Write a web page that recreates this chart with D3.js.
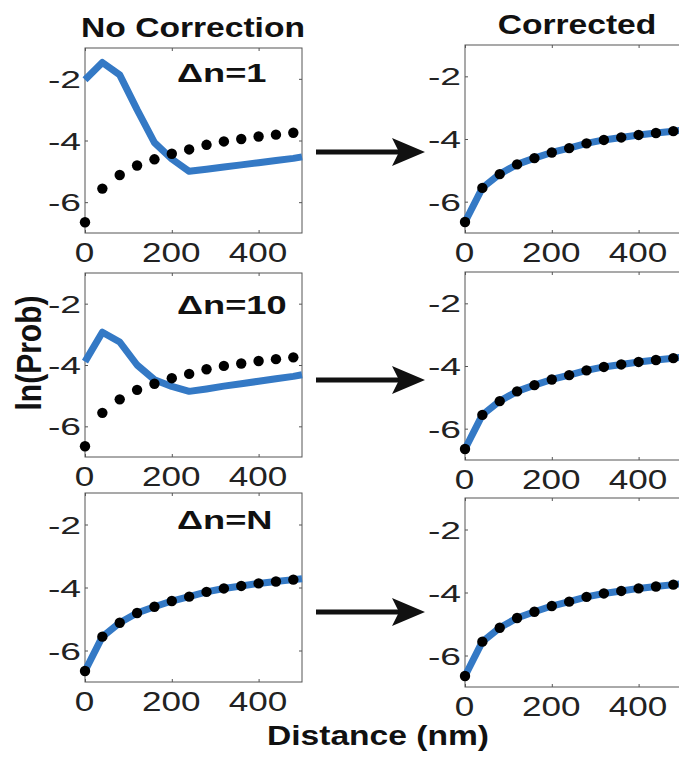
<!DOCTYPE html>
<html>
<head>
<meta charset="utf-8">
<script src="https://cdn.jsdelivr.net/npm/d3@7"></script>
<style>
body { margin: 0; background: #fff; }
svg { display: block; font-family: "Liberation Sans", Arial, Helvetica, sans-serif; }
</style>
</head>
<body>
<svg id="fig" width="679" height="762"></svg>
<script>
// measured points (black dots), same in every panel
var distance = [0, 40, 80, 120, 160, 200, 240, 280, 320, 360, 400, 440, 480];
var lnProb = [-6.65, -5.56, -5.12, -4.81, -4.61, -4.43, -4.29, -4.14, -4.03, -3.95, -3.87, -3.81, -3.75];

// fitted curves (blue)
var lineDistance = [0, 40, 80, 120, 160, 200, 240, 280, 320, 360, 400, 440, 480, 500];
var fitDn1 = [-2.03, -1.47, -1.87, -3.0, -4.07, -4.6, -5.0, -4.93, -4.86, -4.79, -4.72, -4.65, -4.58, -4.53];
var fitDn10 = [-3.89, -2.93, -3.25, -4.0, -4.48, -4.7, -4.86, -4.78, -4.69, -4.61, -4.53, -4.45, -4.37, -4.32];
var fitDnN = [-6.65, -5.56, -5.12, -4.81, -4.61, -4.43, -4.29, -4.14, -4.03, -3.95, -3.87, -3.81, -3.75, -3.72];
var fitCorrected = [-6.65, -5.56, -5.12, -4.81, -4.61, -4.43, -4.29, -4.14, -4.03, -3.95, -3.87, -3.81, -3.75, -3.72];

var xTicks = [0, 200, 400];
var yTicks = [-2, -4, -6];
var colTitles = ["No Correction", "Corrected"];
var rowLabels = ["\u0394n=1", "\u0394n=10", "\u0394n=N"];

var blue = "#3479c5";
var svg = d3.select("#fig");

// helper: text stretched wider like the original scan
function label(x, y, str, size, weight, anchor, sx) {
    return svg.append("text")
        .attr("transform", "translate(" + x + "," + y + ") scale(" + sx + ",1)")
        .attr("text-anchor", anchor)
        .style("font-size", size + "px")
        .style("font-weight", weight)
        .style("fill", "#111")
        .text(str);
}

// plain hyphen, no decimals
var fmt = function(d) { return String(d); };

var panels = [
    {fit: fitDn1,       left: 85,  top: 48,  bottom: 233, tag: rowLabels[0], tagY: 82},
    {fit: fitDn10,      left: 85,  top: 273, bottom: 457, tag: rowLabels[1], tagY: 314},
    {fit: fitDnN,       left: 85,  top: 493, bottom: 682, tag: rowLabels[2], tagY: 529},
    {fit: fitCorrected, left: 465, top: 45,  bottom: 233},
    {fit: fitCorrected, left: 465, top: 272, bottom: 460},
    {fit: fitCorrected, left: 465, top: 498, bottom: 687}
];

panels.forEach(function(p) {
    var x = d3.scaleLinear().domain([0, 500]).range([p.left, p.left + 217]);
    var y = d3.scaleLinear().domain([-7, -1]).range([p.bottom, p.top]);
    var g = svg.append("g");

    g.append("rect")
        .attr("x", x(0)).attr("y", y(-1))
        .attr("width", x(500) - x(0)).attr("height", y(-7) - y(-1))
        .style("fill", "none").style("stroke", "#555").style("stroke-width", 1);

    var bottomAxis = g.append("g")
        .attr("transform", "translate(0," + y(-7) + ")")
        .call(d3.axisBottom(x).tickValues(xTicks).tickSize(-3).tickSizeOuter(0).tickFormat(fmt));
    bottomAxis.selectAll("text")
        .attr("y", 0).attr("dy", 0)
        .attr("transform", "translate(-1,29) scale(1.3,1)")
        .style("font-size", "27px").style("fill", "#222");

    var leftAxis = g.append("g")
        .attr("transform", "translate(" + x(0) + ",0)")
        .call(d3.axisLeft(y).tickValues(yTicks).tickSize(-3).tickSizeOuter(0).tickFormat(fmt));
    leftAxis.selectAll("text")
        .attr("x", 0).attr("dy", "0.36em")
        .attr("transform", "translate(-4,0) scale(1.55,1)")
        .style("font-size", "24px").style("fill", "#222");

    g.append("g")
        .attr("transform", "translate(0," + y(-1) + ")")
        .call(d3.axisTop(x).tickValues(xTicks).tickSize(-3).tickSizeOuter(0).tickFormat(""));
    g.append("g")
        .attr("transform", "translate(" + x(500) + ",0)")
        .call(d3.axisRight(y).tickValues(yTicks).tickSize(-3).tickSizeOuter(0).tickFormat(""));

    g.selectAll(".domain").remove();
    g.selectAll(".tick line").style("stroke", "#555");

    var line = d3.line()
        .x(function(d, i) { return x(lineDistance[i]); })
        .y(function(d) { return y(d); });

    g.append("path")
        .datum(p.fit)
        .attr("d", line)
        .style("fill", "none")
        .style("stroke", blue)
        .style("stroke-width", 7)
        .style("stroke-linejoin", "round");

    g.selectAll("circle")
        .data(lnProb)
        .enter().append("circle")
        .attr("cx", function(d, i) { return x(distance[i]); })
        .attr("cy", function(d) { return y(d); })
        .attr("r", 5.2)
        .style("fill", "#000");

    if (p.tag) label(177, p.tagY, p.tag, 25, "bold", "start", 1.45);
});

// column titles and axis titles
label(193, 37, colTitles[0], 28, "bold", "middle", 1.2);
label(577, 34, colTitles[1], 28, "bold", "middle", 1.2);
label(378, 745, "Distance (nm)", 28, "bold", "middle", 1.2);

svg.append("text")
    .attr("transform", "translate(41,353) scale(1.15,1) rotate(-90)")
    .attr("text-anchor", "middle")
    .style("font-size", "30px")
    .style("font-weight", "bold")
    .style("fill", "#111")
    .text("ln(Prob)");

// arrows between the columns
[152, 380, 612].forEach(function(ay) {
    svg.append("line")
        .attr("x1", 316).attr("x2", 400)
        .attr("y1", ay).attr("y2", ay)
        .style("stroke", "#111").style("stroke-width", 5);
    svg.append("path")
        .attr("d", "M425," + ay + " L392," + (ay - 14) + " L399," + ay + " L392," + (ay + 14) + " Z")
        .style("fill", "#111");
});
</script>
</body>
</html>
